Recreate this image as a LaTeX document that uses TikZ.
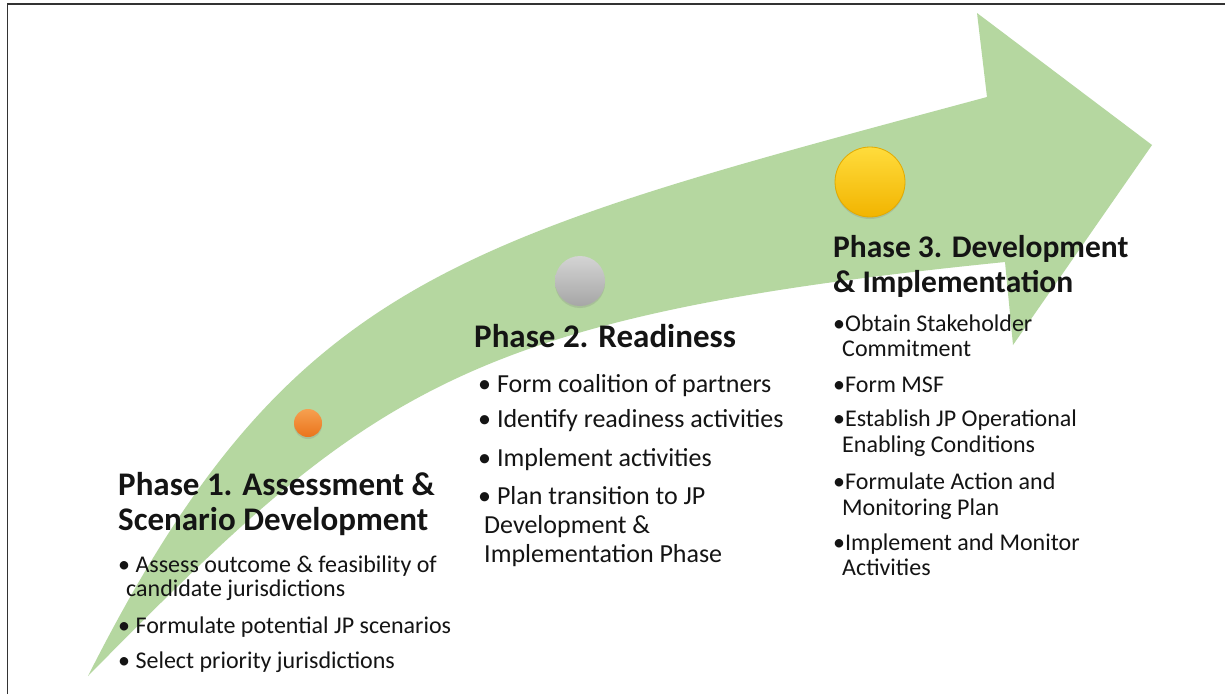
\documentclass[tikz,border=0pt]{standalone}
\usepackage{fontspec}
\setmainfont{Carlito}
\usetikzlibrary{shadows}
\definecolor{arrowgreen}{RGB}{181,215,160}
\definecolor{txtcol}{RGB}{20,20,20}
\begin{document}
\begin{tikzpicture}[x=1pt,y=-1pt,
  txt/.style={anchor=base west, inner sep=0pt, text=txtcol},
  head/.style={txt, font=\bfseries\fontsize{33}{38}\selectfont},
  headthree/.style={txt, font=\bfseries\fontsize{31.5}{38}\selectfont},
  bone/.style={txt, font=\fontsize{24}{28}\selectfont},
  btwo/.style={txt, font=\fontsize{26}{30}\selectfont},
  bthree/.style={txt, font=\fontsize{24}{27}\selectfont},
  dot/.style={circle, inner sep=0pt, draw=none, shading=axis,
    drop shadow={opacity=0.25, shadow xshift=0pt, shadow yshift=-2pt}}]
\useasboundingbox (0,0) rectangle (1225,694);
\fill[white] (0,0) rectangle (1225,694);
\draw[line width=1.6pt, black!80] (7.5,694) -- (7.5,4) -- (1225,4);

% big curved arrow
\fill[arrowgreen] (88,676)
  .. controls (290,276) and (456,240) .. (987,97)
  -- (977,13) -- (1152,145) -- (1013,345) -- (1005,262)
  .. controls (458,317) and (368,392) .. (88,676)
  -- cycle;

% phase markers
\node[dot, minimum size=28pt, top color={rgb,255:red,246;green,160;blue,80}, bottom color={rgb,255:red,234;green,116;blue,28}] (c1) at (308,423) {};
\node[dot, minimum size=50pt, top color={rgb,255:red,212;green,212;blue,212}, bottom color={rgb,255:red,166;green,166;blue,166}] (c2) at (580,281) {};
\node[dot, minimum size=70pt, draw={rgb,255:red,226;green,170;blue,0}, line width=0.8pt, top color={rgb,255:red,255;green,220;blue,60}, bottom color={rgb,255:red,242;green,180;blue,0}] (c3) at (870,182) {};

% Phase 1
\node[head] (h1a) at (118,495) {Phase 1. Assessment \&};
\node[head] (h1b) at (118,530) {Scenario Development};
\node[bone] (p1a) at (118,572) {• Assess outcome \& feasibility of};
\node[bone] (p1b) at (126,596) {candidate jurisdictions};
\node[bone] (p1c) at (118,633) {• Formulate potential JP scenarios};
\node[bone] (p1d) at (118,668) {• Select priority jurisdictions};

% Phase 2
\node[head] (h2) at (474,347) {Phase 2. Readiness};
\node[btwo] (p2a) at (478,392) {• Form coalition of partners};
\node[btwo] (p2b) at (478,427) {• Identify readiness activities};
\node[btwo] (p2c) at (478,466) {• Implement activities};
\node[btwo] (p2d) at (478,504) {• Plan transition to JP};
\node[btwo] (p2e) at (484,533) {Development \&};
\node[btwo] (p2f) at (484,562) {Implementation Phase};

% Phase 3
\node[headthree] (h3a) at (833,257) {Phase 3. Development};
\node[headthree] (h3b) at (833,292) {\& Implementation};
\node[bthree] (p3a) at (833,331) {•Obtain Stakeholder};
\node[bthree] (p3b) at (842,356) {Commitment};
\node[bthree] (p3c) at (833,392) {•Form MSF};
\node[bthree] (p3d) at (833,426) {•Establish JP Operational};
\node[bthree] (p3e) at (842,452) {Enabling Conditions};
\node[bthree] (p3f) at (833,489) {•Formulate Action and};
\node[bthree] (p3g) at (842,515) {Monitoring Plan};
\node[bthree] (p3h) at (833,550) {•Implement and Monitor};
\node[bthree] (p3i) at (842,575) {Activities};
\end{tikzpicture}
\end{document}
